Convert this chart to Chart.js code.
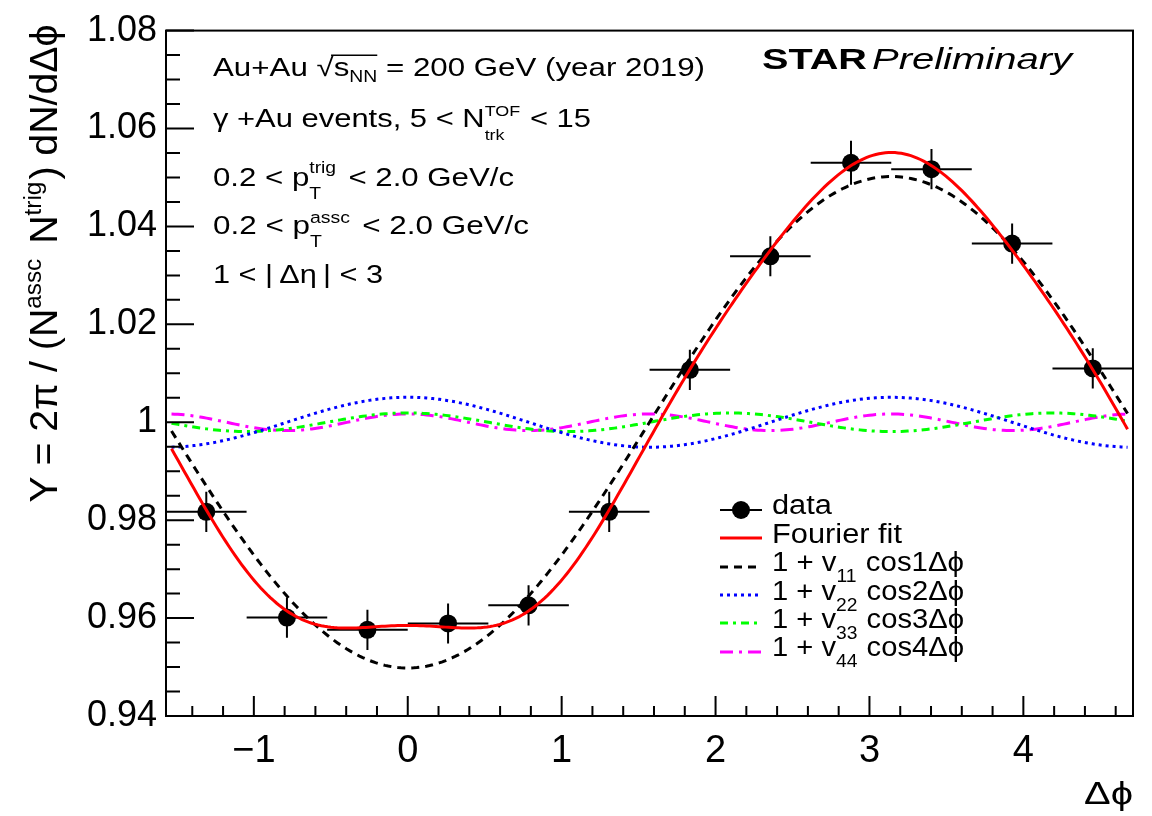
<!DOCTYPE html>
<html>
<head>
<meta charset="utf-8">
<script src="https://cdn.jsdelivr.net/npm/chart.js@4.4.0/dist/chart.umd.min.js"></script>
<style>
html,body{margin:0;padding:0;background:#ffffff;}
#wrap{width:1152px;height:816px;position:relative;}
</style>
</head>
<body>
<div id="wrap"><canvas id="c" width="1152" height="816"></canvas></div>
<script>
// ---------------- data ----------------
const binCenters   = [-1.309, -0.785, -0.262, 0.262, 0.785, 1.309, 1.833, 2.356, 2.880, 3.403, 3.927, 4.451];
const yieldValues  = [0.9817, 0.9601, 0.9576, 0.9589, 0.9626, 0.9817, 1.0107, 1.0339, 1.0530, 1.0517, 1.0365, 1.0110];
const yieldErrors  = [0.0041, 0.0041, 0.0041, 0.0041, 0.0041, 0.0041, 0.0041, 0.0041, 0.0045, 0.0041, 0.0041, 0.0041];
const binHalfWidth = 0.2618;
// Fourier fit: Y = 1 + sum_n A_n cos(n dphi), A_n = 2 v_nn
const harmonicOrders     = [1, 2, 3, 4];
const harmonicAmplitudes = [-0.0502, 0.0051, 0.0019, 0.0017];
const curveRange  = [-1.535, 4.677];
const xRange      = [-Math.PI / 2, 3 * Math.PI / 2];
const yRange      = [0.94, 1.08];
const xMajorTicks = [-1, 0, 1, 2, 3, 4];
const yMajorStep  = 0.02;
const yMinorStep  = 0.005;
const xMinorStep  = 0.2;

// ---------------- curves built from the fit coefficients ----------------
function curve(orders) {
  const pts = [];
  const n = 300;
  for (let i = 0; i <= n; i++) {
    const x = curveRange[0] + (curveRange[1] - curveRange[0]) * i / n;
    let y = 1;
    harmonicOrders.forEach((k, j) => { if (orders.includes(k)) y += harmonicAmplitudes[j] * Math.cos(k * x); });
    pts.push({x, y});
  }
  return pts;
}
const fitCurve = curve([1, 2, 3, 4]);
const v1Curve = curve([1]);
const v2Curve = curve([2]);
const v3Curve = curve([3]);
const v4Curve = curve([4]);

const FAMILY = '"Liberation Sans", Arial, Helvetica, sans-serif';

// ---------------- rich text helper ----------------
function drawRich(ctx, parts, x, y, size, opt) {
  opt = opt || {};
  const items = [];
  let w = 0;
  let rootStart = null;
  const lines = [];
  const f = (s, st) => `${st || ''} ${s}px ${FAMILY}`;
  for (const p of parts) {
    if (p.t !== undefined) {
      ctx.font = f(size, p.st);
      items.push({text: p.t, x: w, dy: 0, size, st: p.st});
      if (p.root) rootStart = w + ctx.measureText(p.t).width * 0.85;
      w += ctx.measureText(p.t).width + (p.gap || 0);
    } else if (p.sup !== undefined || p.sub !== undefined) {
      const ss = size * (p.scale || 0.62);
      ctx.font = f(ss, '');
      let mw = 0;
      if (p.sup) { items.push({text: p.sup, x: w, dy: -size * (p.supUp || 0.45), size: ss}); mw = Math.max(mw, ctx.measureText(p.sup).width); }
      if (p.sub) { items.push({text: p.sub, x: w, dy: size * (p.subDown || 0.25), size: ss}); mw = Math.max(mw, ctx.measureText(p.sub).width); }
      w += mw + (p.gap || 0);
    }
    if (p.rootEnd && rootStart !== null) { lines.push([rootStart, w]); rootStart = null; }
  }
  let sx = opt.sx || 1;
  if (opt.fit) sx = opt.fit / w;
  ctx.save();
  ctx.translate(x, y);
  if (opt.rotate) ctx.rotate(opt.rotate);
  ctx.scale(sx, 1);
  const off = opt.align === 'right' ? -w : 0;
  ctx.fillStyle = '#000';
  ctx.textBaseline = 'alphabetic';
  ctx.textAlign = 'left';
  for (const it of items) {
    ctx.font = f(it.size, it.st);
    ctx.fillText(it.text, it.x + off, it.dy);
  }
  ctx.strokeStyle = '#000';
  ctx.lineWidth = 1.5;
  for (const l of lines) {
    ctx.beginPath();
    ctx.moveTo(l[0] + off, -size * 0.8);
    ctx.lineTo(l[1] + off, -size * 0.8);
    ctx.stroke();
  }
  ctx.restore();
  return {w, sx};
}

// ---------------- decoration plugin (frame, ticks, texts, legend, error bars) ----------------
const rootStyle = {
  id: 'rootStyle',
  beforeDatasetsDraw(chart) {
    const {ctx, chartArea: a, scales: {x, y}} = chart;
    ctx.save();
    ctx.beginPath();
    ctx.rect(a.left, a.top, a.right - a.left, a.bottom - a.top);
    ctx.clip();
    ctx.strokeStyle = '#000';
    ctx.lineWidth = 2;
    binCenters.forEach((c, i) => {
      const px = x.getPixelForValue(c);
      const py = y.getPixelForValue(yieldValues[i]);
      ctx.beginPath();
      ctx.moveTo(x.getPixelForValue(c - binHalfWidth), py);
      ctx.lineTo(x.getPixelForValue(c + binHalfWidth), py);
      ctx.moveTo(px, y.getPixelForValue(yieldValues[i] - yieldErrors[i]));
      ctx.lineTo(px, y.getPixelForValue(yieldValues[i] + yieldErrors[i]));
      ctx.stroke();
    });
    ctx.restore();
  },
  afterDraw(chart) {
    const {ctx, chartArea: a, scales: {x, y}} = chart;
    ctx.save();
    ctx.strokeStyle = '#000';
    ctx.lineWidth = 2;
    ctx.strokeRect(a.left, a.top, a.right - a.left, a.bottom - a.top);
    // ticks
    ctx.lineWidth = 2;
    ctx.beginPath();
    for (let v = Math.ceil(xRange[0] / xMinorStep) * xMinorStep; v <= xRange[1] + 1e-9; v += xMinorStep) {
      const px = x.getPixelForValue(v);
      const major = Math.abs(v - Math.round(v)) < 1e-6;
      const len = major ? 20 : 10;
      ctx.moveTo(px, a.bottom);
      ctx.lineTo(px, a.bottom - len);
    }
    const nY = Math.round((yRange[1] - yRange[0]) / yMinorStep);
    for (let k = 0; k <= nY; k++) {
      const v = yRange[0] + k * yMinorStep;
      const py = y.getPixelForValue(v);
      const major = k % Math.round(yMajorStep / yMinorStep) === 0;
      const len = major ? 28 : 14;
      ctx.moveTo(a.left, py);
      ctx.lineTo(a.left + len, py);
    }
    ctx.stroke();
    ctx.restore();

    // axis titles
    drawRich(ctx, [
      {t: 'Y = 2π / (N'}, {sup: 'assc', supUp: 0.42, gap: 4}, {t: ' N'}, {sup: 'trig', supUp: 0.42, gap: 2}, {t: ') dN/dΔϕ'}
    ], 57, a.top - 6, 38, {rotate: -Math.PI / 2, align: 'right', fit: 478});
    drawRich(ctx, [{t: 'Δϕ'}], a.right, 804, 32, {align: 'right', fit: 49});

    // info text
    const S = 26;
    drawRich(ctx, [
      {t: 'Au+Au '}, {t: '√', root: true}, {t: 's'}, {sub: 'NN', subDown: 0.22}, {t: '', rootEnd: true}, {t: ' = 200 GeV (year 2019)'}
    ], 213, 76, S, {fit: 492});
    drawRich(ctx, [{t: 'γ +Au events, 5 < N'}, {sup: 'TOF', sub: 'trk', scale: 0.58, supUp: 0.44, subDown: 0.5, gap: 1}, {t: ' < 15'}], 213, 127, S, {fit: 378});
    drawRich(ctx, [{t: '0.2 < p'}, {sup: 'trig', sub: 'T', supUp: 0.5, subDown: 0.5, gap: 3}, {t: ' < 2.0 GeV/c'}], 213, 186, S, {fit: 301});
    drawRich(ctx, [{t: '0.2 < p'}, {sup: 'assc', sub: 'T', supUp: 0.42, subDown: 0.5, gap: 3}, {t: ' < 2.0 GeV/c'}], 213, 234, S, {fit: 316});
    drawRich(ctx, [{t: '1 < |\u2009Δη\u2009| < 3'}], 213, 283, S, {fit: 170});

    // STAR Preliminary
    drawRich(ctx, [{t: 'STAR', st: 'bold'}], 762, 69, 30, {fit: 105});
    drawRich(ctx, [{t: 'Preliminary', st: 'italic'}], 872, 69, 30, {fit: 200});

    // legend
    const lx0 = 720, lx1 = 762, tx = 772;
    const L = 27;
    ctx.save();
    ctx.strokeStyle = '#000'; ctx.lineWidth = 2;
    ctx.beginPath(); ctx.moveTo(lx0, 510); ctx.lineTo(lx1, 510); ctx.stroke();
    ctx.fillStyle = '#000'; ctx.beginPath(); ctx.arc((lx0 + lx1) / 2, 510, 9, 0, Math.PI * 2); ctx.fill();
    const legLines = [
      {y: 538, color: '#ff0000', dash: []},
      {y: 567, color: '#000000', dash: [8, 6]},
      {y: 595, color: '#0000ff', dash: [3, 4]},
      {y: 623, color: '#00ff00', dash: [8, 5, 3, 5]},
      {y: 652, color: '#ff00ff', dash: [13, 6, 3, 6]}
    ];
    legLines.forEach(l => {
      ctx.strokeStyle = l.color; ctx.lineWidth = 3; ctx.setLineDash(l.dash);
      ctx.beginPath(); ctx.moveTo(lx0, l.y); ctx.lineTo(lx1, l.y); ctx.stroke();
    });
    ctx.restore();
    const rl = drawRich(ctx, [{t: 'Fourier fit'}], tx, 543, L, {fit: 130});
    drawRich(ctx, [{t: 'data'}], tx, 514, L, {sx: rl.sx});
    [['11', '1', 571], ['22', '2', 600], ['33', '3', 628], ['44', '4', 656]].forEach(([s, n, yy]) => {
      drawRich(ctx, [{t: '1 + v'}, {sub: s, subDown: 0.42, scale: 0.66, gap: 1}, {t: ' cos' + n + 'Δϕ'}], tx, yy, L, {fit: 192});
    });
  }
};

const lineDS = (data, color, dash, width, order) => ({
  type: 'line', data, borderColor: color, borderWidth: width, borderDash: dash,
  pointRadius: 0, tension: 0, fill: false, order, clip: 0
});

new Chart(document.getElementById('c'), {
  type: 'scatter',
  data: {
    datasets: [
      {type: 'scatter', label: 'data', data: binCenters.map((c, i) => ({x: c, y: yieldValues[i]})),
       pointRadius: 9, pointHoverRadius: 9, backgroundColor: '#000', borderWidth: 0, order: 10},
      Object.assign(lineDS(fitCurve, '#ff0000', [], 3, 0), {label: 'Fourier fit'}),
      Object.assign(lineDS(v1Curve, '#000000', [8, 6], 3, 1), {label: '1 + v11 cos1Δϕ'}),
      Object.assign(lineDS(v2Curve, '#0000ff', [3, 4], 3, 2), {label: '1 + v22 cos2Δϕ'}),
      Object.assign(lineDS(v3Curve, '#00ff00', [8, 5, 3, 5], 3, 3), {label: '1 + v33 cos3Δϕ'}),
      Object.assign(lineDS(v4Curve, '#ff00ff', [13, 6, 3, 6], 3, 4), {label: '1 + v44 cos4Δϕ'})
    ]
  },
  options: {
    responsive: false,
    animation: false,
    devicePixelRatio: 1,
    layout: {padding: {top: 20, right: 19, left: 0, bottom: 0}},
    plugins: {legend: {display: false}, tooltip: {enabled: false}},
    events: [],
    scales: {
      x: {
        type: 'linear', min: xRange[0], max: xRange[1],
        afterBuildTicks(scale) { scale.ticks = xMajorTicks.map(v => ({value: v})); },
        ticks: {
          includeBounds: false, stepSize: 1, color: '#000', padding: 13,
          font: {family: FAMILY, size: 38},
          maxRotation: 0, autoSkip: false,
          callback: v => (v < 0 ? '\u2212' + Math.abs(v) : String(v))
        },
        grid: {display: false, drawTicks: false},
        border: {display: false},
        afterFit(scale) { scale.height = 100; }
      },
      y: {
        type: 'linear', min: yRange[0], max: yRange[1],
        ticks: {
          stepSize: yMajorStep, color: '#000', padding: 9,
          font: {family: FAMILY, size: 36},
          callback: v => String(Number(v.toFixed(2)))
        },
        grid: {display: false, drawTicks: false},
        border: {display: false},
        afterFit(scale) { scale.width = 166; }
      }
    }
  },
  plugins: [rootStyle]
});
</script>
</body>
</html>
